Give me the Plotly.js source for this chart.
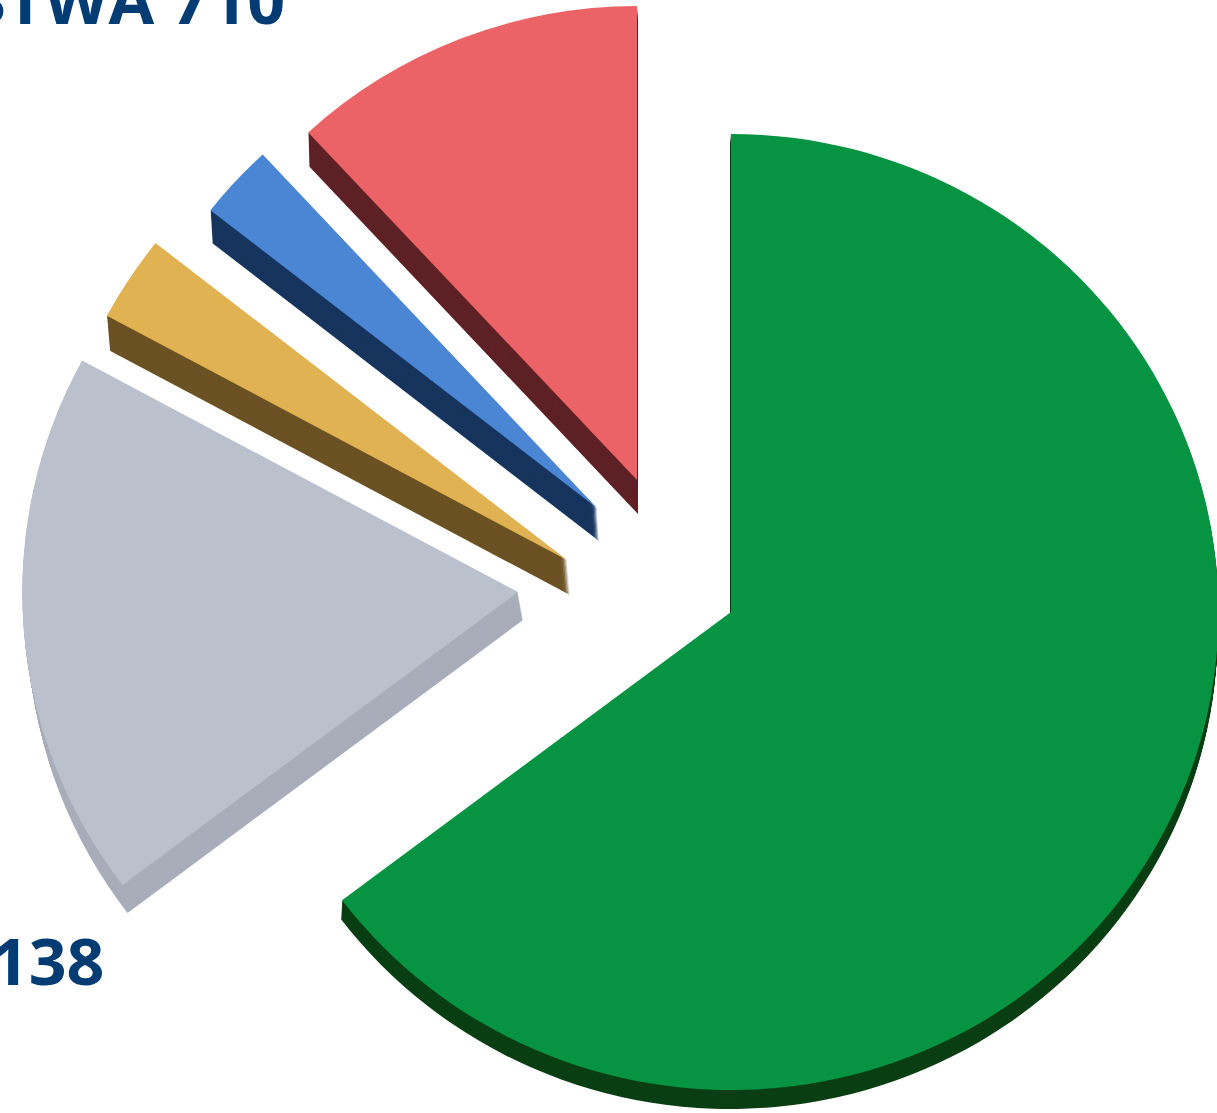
<!DOCTYPE html>
<html>
<head>
<meta charset="utf-8">
<script src="https://cdn.plot.ly/plotly-3.0.1.min.js"></script>
<style>html,body{margin:0;padding:0;width:1217px;height:1113px;overflow:hidden;background:#fff}#chart{width:1400px;height:1300px;transform:scaleX(1.02);transform-origin:0 0}</style>
</head>
<body>
<div id="chart"></div>
<script>
// Slice shares (percent of the whole), clockwise from 12 o'clock
var shares = [64.7, 18.2, 2.7, 2.5, 11.9];
var topColors = ['#079442', '#bac1cc', '#e0b252', '#4a86d4', '#ec6367'];
var sideColors = ['#0a3f14', '#a9adba', '#6b5224', '#17355e', '#5e2226'];
var labelTexts = ['STWA 710', '138'];

// Explosion layout: apex position, radius, extrusion per slice (pixels)
var apexX = [731, 518, 567, 597, 637];
var apexY = [612, 592, 560, 508, 480];
var radii = [478, 486, 513, 482, 474];
var depthX = [-1, 5, 3, 2, 1];
var depthY = [19, 28, 35, 33, 34];

var W = 1400, H = 1300, STEP = 1, SX = 1.02;

function domainOf(cx, cy, r) {
  var c = cx / SX;
  return { x: [(c - r) / W, (c + r) / W], y: [1 - (cy + r) / H, 1 - (cy - r) / H] };
}
function wedge(i, cx, cy, color, rotation) {
  return {
    type: 'pie', sort: false, direction: 'clockwise', rotation: rotation,
    values: [shares[i], 100 - shares[i]],
    marker: { colors: [color, 'rgba(0,0,0,0)'], line: { width: 0 } },
    textinfo: 'none', hoverinfo: 'skip', showlegend: false,
    domain: domainOf(cx, cy, radii[i])
  };
}
var traces = [], start = 0;
shares.forEach(function (s, i) {
  var n = Math.ceil(depthY[i] / STEP);
  for (var k = n; k >= 1; k--) {
    traces.push(wedge(i, apexX[i] + depthX[i] * k / n, apexY[i] + depthY[i] * k / n, sideColors[i], start));
  }
  start += s * 3.6;
});
start = 0;
shares.forEach(function (s, i) {
  traces.push(wedge(i, apexX[i], apexY[i], topColors[i], start));
  start += s * 3.6;
});

var font = { family: 'Open Sans, sans-serif', size: 65, color: '#033c73', weight: 700 };
var layout = {
  width: W, height: H, margin: { l: 0, r: 0, t: 0, b: 0 },
  paper_bgcolor: '#fff', showlegend: false,
  annotations: [
    { text: '<b>' + labelTexts[0] + '</b>', xref: 'paper', yref: 'paper', x: 287 / SX / W, y: 1 - 22 / H,
      xanchor: 'right', yanchor: 'bottom', yshift: -22, showarrow: false, font: font, borderpad: 0 },
    { text: '<b>' + labelTexts[1] + '</b>', xref: 'paper', yref: 'paper', x: 106 / SX / W, y: 1 - 987 / H,
      xanchor: 'right', yanchor: 'bottom', yshift: -18, showarrow: false, font: font, borderpad: 0 }
  ]
};
Plotly.newPlot('chart', traces, layout, { staticPlot: true, displayModeBar: false });
</script>
</body>
</html>
